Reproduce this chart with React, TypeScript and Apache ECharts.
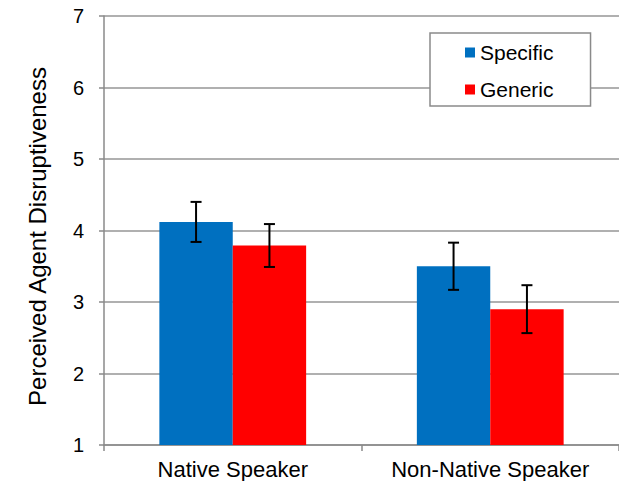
import React, { useEffect, useRef } from "react";
import * as echarts from "echarts";

const categories = ["Native Speaker", "Non-Native Speaker"];
const seriesNames = ["Specific", "Generic"];
const specificValues = [4.12, 3.5];
const genericValues = [3.79, 2.9];
const specificErrors = [0.28, 0.33];
const genericErrors = [0.3, 0.335];
const yTicks = [1, 2, 3, 4, 5, 6, 7];

const FONT = "'Liberation Sans', Arial, sans-serif";
const CAT_GAP = 0.43;

function errorSeries(values: number[], errors: number[], idx: number) {
  const data = values.map((v, i) => [i, v, errors[i]]);
  return {
    type: "custom",
    name: seriesNames[idx] + " error",
    z: 10,
    silent: true,
    data,
    encode: { x: 0, y: 1 },
    renderItem: (params: any, api: any) => {
      const ci = api.value(0);
      const v = api.value(1);
      const e = api.value(2);
      const band = api.size([1, 0])[0];
      const bw = (band * (1 - CAT_GAP)) / 2;
      const off = idx === 0 ? -bw / 2 : bw / 2;
      const top = api.coord([ci, v + e]);
      const bot = api.coord([ci, v - e]);
      const x = top[0] + off;
      const cap = 5.5;
      const style = { stroke: "#000", lineWidth: 2 };
      return {
        type: "group",
        children: [
          { type: "line", shape: { x1: x, y1: top[1], x2: x, y2: bot[1] }, style },
          { type: "line", shape: { x1: x - cap, y1: top[1], x2: x + cap, y2: top[1] }, style },
          { type: "line", shape: { x1: x - cap, y1: bot[1], x2: x + cap, y2: bot[1] }, style },
        ],
      };
    },
  };
}

export default function App() {
  const ref = useRef<HTMLDivElement>(null);
  useEffect(() => {
    if (!ref.current) return;
    const chart = echarts.init(ref.current, undefined, { renderer: "svg" });
    chart.setOption({
      animation: false,
      textStyle: { fontFamily: FONT },
      grid: { left: 104, top: 16, width: 518, bottom: 36 },
      legend: {
        data: seriesNames,
        orient: "vertical",
        left: 430,
        top: 33,
        backgroundColor: "#fff",
        borderColor: "#8a8a8a",
        borderWidth: 1.5,
        padding: [9, 37, 6, 35],
        itemWidth: 10,
        itemHeight: 10,
        itemGap: 16,
        icon: "rect",
        textStyle: { fontSize: 21, color: "#000", fontFamily: FONT, lineHeight: 20 },
      },
      xAxis: {
        type: "category",
        data: categories,
        axisLine: { lineStyle: { color: "#8a8a8a", width: 1.5 } },
        axisTick: { show: true, length: 6, lineStyle: { color: "#8a8a8a", width: 1.5 } },
        axisLabel: { fontSize: 22, color: "#000", margin: 13, fontFamily: FONT, interval: 0, hideOverlap: false },
      },
      yAxis: {
        type: "value",
        min: yTicks[0],
        max: yTicks[yTicks.length - 1],
        interval: 1,
        name: "Perceived Agent Disruptiveness",
        nameLocation: "middle",
        nameGap: 55,
        nameTextStyle: { fontSize: 24, color: "#000", fontFamily: FONT, padding: [0, 12, 0, 0] },
        axisLine: { show: true, lineStyle: { color: "#8a8a8a", width: 1.5 } },
        axisTick: { show: true, length: 5, lineStyle: { color: "#8a8a8a", width: 1.5 } },
        axisLabel: { fontSize: 20, color: "#000", margin: 20, fontFamily: FONT },
        splitLine: { show: true, lineStyle: { color: "#969696", width: 1.5 } },
      },
      series: [
        {
          type: "bar",
          name: seriesNames[0],
          data: specificValues,
          itemStyle: { color: "#0070C0" },
          barGap: "0%",
          barCategoryGap: CAT_GAP * 100 + "%",
        },
        {
          type: "bar",
          name: seriesNames[1],
          data: genericValues,
          itemStyle: { color: "#FF0000" },
          barGap: "0%",
          barCategoryGap: CAT_GAP * 100 + "%",
        },
        errorSeries(specificValues, specificErrors, 0),
        errorSeries(genericValues, genericErrors, 1),
      ],
    });
    return () => chart.dispose();
  }, []);
  return (
    <div
      ref={ref}
      style={{ position: "fixed", left: 0, top: 0, width: 619, height: 481, background: "#fff" }}
    />
  );
}
